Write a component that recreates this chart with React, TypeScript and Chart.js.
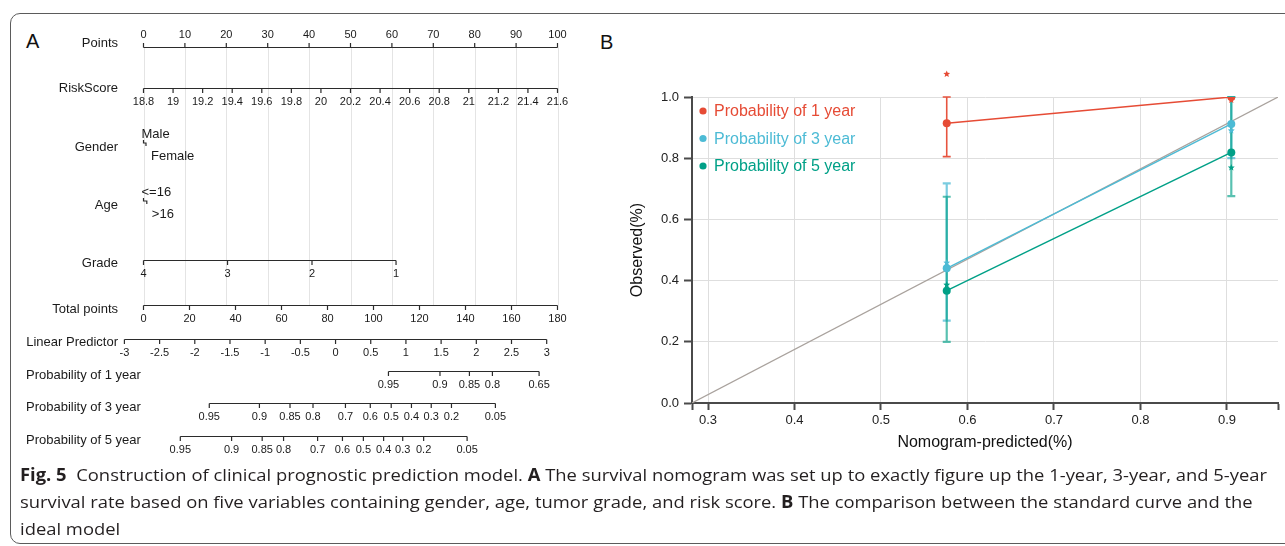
import React, { useEffect, useLayoutEffect, useRef } from 'react';
import { Chart, registerables } from 'chart.js';

Chart.register(...registerables);

const SANS = '"Liberation Sans", Arial, Helvetica, sans-serif';
Chart.defaults.font.family = SANS;
Chart.defaults.color = '#222';

// ---------- Panel A: nomogram scales (positions in points / total points) ----------
const pointsTicks = [0, 10, 20, 30, 40, 50, 60, 70, 80, 90, 100];
const riskScoreTicks = [18.8, 19, 19.2, 19.4, 19.6, 19.8, 20, 20.2, 20.4, 20.6, 20.8, 21, 21.2, 21.4, 21.6];
const riskScoreMin = 18.8;
const riskScoreMax = 21.6;
const genderLevels = ['Male', 'Female'];
const genderPoints = [0, 0.6];
const ageLevels = ['<=16', '>16'];
const agePoints = [0, 0.8];
const gradeLevels = ['4', '3', '2', '1'];
const gradePoints = [0, 20.3, 40.7, 61.0];
const totalPointsTicks = [0, 20, 40, 60, 80, 100, 120, 140, 160, 180];
const totalPointsMax = 180;
const linearPredictorTicks = [-3, -2.5, -2, -1.5, -1, -0.5, 0, 0.5, 1, 1.5, 2, 2.5, 3];
const lpTotalAtZero = 83.5;
const lpTotalPerUnit = 30.6;
const prob1Labels = ['0.95', '0.9', '0.85', '0.8', '0.65'];
const prob1Total = [106.5, 128.9, 141.7, 151.7, 172.0];
const prob3Labels = ['0.95', '0.9', '0.85', '0.8', '0.7', '0.6', '0.5', '0.4', '0.3', '0.2', '0.05'];
const prob3Total = [28.6, 50.4, 63.7, 73.7, 87.8, 98.6, 107.7, 116.5, 125.1, 133.9, 153.0];
const prob5Labels = ['0.95', '0.9', '0.85', '0.8', '0.7', '0.6', '0.5', '0.4', '0.3', '0.2', '0.05'];
const prob5Total = [16.0, 38.3, 51.6, 60.9, 75.7, 86.5, 95.6, 104.4, 112.7, 121.8, 140.7];

// ---------- Panel B: calibration ----------
const predicted = [0.576, 0.905];
const observed1 = [0.914, 1.0];
const lower1 = [0.805, 1.0];
const upper1 = [1.0, 1.0];
const km1 = [1.075, 0.99];
const observed3 = [0.44, 0.912];
const lower3 = [0.269, 0.8];
const upper3 = [0.718, 1.0];
const km3 = [0.458, 0.89];
const observed5 = [0.367, 0.819];
const lower5 = [0.2, 0.676];
const upper5 = [0.674, 1.0];
const km5 = [0.386, 0.769];
const xMin = 0.2815;
const xMax = 0.959;
const xTickValues = [0.3, 0.4, 0.5, 0.6, 0.7, 0.8, 0.9];
const yTickValues = [0, 0.2, 0.4, 0.6, 0.8, 1.0];

const RED = '#e64b35';
const BLUE = '#4dbbd5';
const GREEN = '#00a087';

const calSeries = [
  { label: 'Probability of 1 year', color: RED, bar: 'rgba(230,75,53,0.95)', barWidth: 1.6, observed: observed1, lower: lower1, upper: upper1, km: km1 },
  { label: 'Probability of 3 year', color: BLUE, bar: 'rgba(77,187,213,0.75)', barWidth: 2.2, observed: observed3, lower: lower3, upper: upper3, km: km3 },
  { label: 'Probability of 5 year', color: GREEN, bar: 'rgba(0,160,135,0.65)', barWidth: 2.2, observed: observed5, lower: lower5, upper: upper5, km: km5 },
];

// vertical layout of the nomogram rows (canvas px)
const ROW = {
  points: { axis: 47.5, label: 43.5 },
  risk: { axis: 88.5, label: 88.5 },
  gender: { axis: 143, label: 147 },
  age: { axis: 201, label: 205 },
  grade: { axis: 260.5, label: 263 },
  total: { axis: 305.5, label: 309 },
  lp: { axis: 339.5, label: 342 },
  p1: { axis: 371.5, label: 375 },
  p3: { axis: 403.5, label: 407 },
  p5: { axis: 436.5, label: 440 },
};

const TICK = 4.5;
const fmt = (v: number) => String(v);

const nomogramPlugin = {
  id: 'nomogram',
  afterDraw(chart: any) {
    const ctx: CanvasRenderingContext2D = chart.ctx;
    const xs = chart.scales.x;
    const ys = chart.scales.y;
    const px = (pts: number) => xs.getPixelForValue(pts);
    const py = (v: number) => ys.getPixelForValue(v);
    const fromTotal = (t: number) => (t * 100) / totalPointsMax;

    ctx.save();
    // light vertical guides at every points tick
    ctx.strokeStyle = '#e4e4e4';
    ctx.lineWidth = 1;
    ctx.beginPath();
    pointsTicks.forEach((p) => {
      const x = Math.round(px(p)) + 0.5;
      ctx.moveTo(x, py(ROW.points.axis));
      ctx.lineTo(x, py(ROW.total.axis));
    });
    ctx.stroke();

    ctx.strokeStyle = '#2b2b2b';
    ctx.fillStyle = '#1a1a1a';
    ctx.lineWidth = 1.2;

    const rowLabel = (text: string, y: number) => {
      ctx.font = `13px ${SANS}`;
      ctx.textBaseline = 'middle';
      ctx.textAlign = 'left';
      const w = ctx.measureText(text).width;
      let left = 118 - w;
      if (left < 26) left = 26;
      ctx.fillText(text, left, py(y));
    };

    const scaleRow = (pts: number[], labels: string[], axisY: number, up: boolean) => {
      const xsPix = pts.map(px);
      const y = py(axisY);
      ctx.beginPath();
      ctx.moveTo(Math.min(...xsPix), y);
      ctx.lineTo(Math.max(...xsPix), y);
      xsPix.forEach((x) => {
        ctx.moveTo(x, y);
        ctx.lineTo(x, up ? y - TICK : y + TICK);
      });
      ctx.stroke();
      ctx.font = `11px ${SANS}`;
      ctx.textAlign = 'center';
      ctx.textBaseline = 'middle';
      xsPix.forEach((x, i) => ctx.fillText(labels[i], x, up ? y - 12.5 : y + 13.5));
    };

    const categoryRow = (pts: number[], labels: string[], axisY: number) => {
      const [x0, x1] = pts.map(px);
      const y = py(axisY);
      ctx.beginPath();
      ctx.moveTo(x0, y - 3);
      ctx.lineTo(x0, y);
      ctx.lineTo(x1, y);
      ctx.lineTo(x1, y + 3);
      ctx.stroke();
      ctx.font = `13px ${SANS}`;
      ctx.textAlign = 'left';
      ctx.textBaseline = 'middle';
      ctx.fillText(labels[0], x0 - 2, y - 9);
      ctx.fillText(labels[1], x1 + 5, y + 13.5);
    };

    rowLabel('Points', ROW.points.label);
    scaleRow(pointsTicks, pointsTicks.map(fmt), ROW.points.axis, true);

    rowLabel('RiskScore', ROW.risk.label);
    scaleRow(
      riskScoreTicks.map((v) => ((v - riskScoreMin) / (riskScoreMax - riskScoreMin)) * 100),
      riskScoreTicks.map(fmt),
      ROW.risk.axis,
      false
    );

    rowLabel('Gender', ROW.gender.label);
    categoryRow(genderPoints, genderLevels, ROW.gender.axis);

    rowLabel('Age', ROW.age.label);
    categoryRow(agePoints, ageLevels, ROW.age.axis);

    rowLabel('Grade', ROW.grade.label);
    scaleRow(gradePoints, gradeLevels, ROW.grade.axis, false);

    rowLabel('Total points', ROW.total.label);
    scaleRow(totalPointsTicks.map(fromTotal), totalPointsTicks.map(fmt), ROW.total.axis, false);

    rowLabel('Linear Predictor', ROW.lp.label);
    scaleRow(
      linearPredictorTicks.map((v) => fromTotal(lpTotalAtZero + lpTotalPerUnit * v)),
      linearPredictorTicks.map(fmt),
      ROW.lp.axis,
      false
    );

    rowLabel('Probability of 1 year', ROW.p1.label);
    scaleRow(prob1Total.map(fromTotal), prob1Labels, ROW.p1.axis, false);
    rowLabel('Probability of 3 year', ROW.p3.label);
    scaleRow(prob3Total.map(fromTotal), prob3Labels, ROW.p3.axis, false);
    rowLabel('Probability of 5 year', ROW.p5.label);
    scaleRow(prob5Total.map(fromTotal), prob5Labels, ROW.p5.axis, false);

    ctx.restore();
  },
};

function starPath(ctx: CanvasRenderingContext2D, cx: number, cy: number, r: number) {
  ctx.beginPath();
  for (let i = 0; i < 10; i++) {
    const a = -Math.PI / 2 + (i * Math.PI) / 5;
    const rr = i % 2 === 0 ? r : r * 0.45;
    ctx.lineTo(cx + rr * Math.cos(a), cy + rr * Math.sin(a));
  }
  ctx.closePath();
}

const errorBarPlugin = {
  id: 'errorBars',
  beforeDatasetsDraw(chart: any) {
    const ctx: CanvasRenderingContext2D = chart.ctx;
    const { x, y } = chart.scales;
    ctx.save();
    calSeries.forEach((s) => {
      ctx.strokeStyle = s.bar;
      ctx.lineWidth = s.barWidth;
      predicted.forEach((p, i) => {
        const cx = x.getPixelForValue(p);
        const top = y.getPixelForValue(s.upper[i]);
        const bot = y.getPixelForValue(s.lower[i]);
        if (Math.abs(top - bot) < 0.5) return;
        ctx.beginPath();
        ctx.moveTo(cx, top);
        ctx.lineTo(cx, bot);
        ctx.moveTo(cx - 4, top);
        ctx.lineTo(cx + 4, top);
        ctx.moveTo(cx - 4, bot);
        ctx.lineTo(cx + 4, bot);
        ctx.stroke();
      });
    });
    ctx.restore();
  },
  // Kaplan-Meier estimates as small stars (drawn even when above the plot area)
  afterDatasetsDraw(chart: any) {
    const ctx: CanvasRenderingContext2D = chart.ctx;
    const { x, y } = chart.scales;
    ctx.save();
    calSeries.forEach((s) => {
      ctx.fillStyle = s.color;
      predicted.forEach((p, i) => {
        starPath(ctx, x.getPixelForValue(p), y.getPixelForValue(s.km[i]), 3.6);
        ctx.fill();
      });
    });
    ctx.restore();
  },
};

const insideLegendPlugin = {
  id: 'insideLegend',
  afterDraw(chart: any) {
    const ctx: CanvasRenderingContext2D = chart.ctx;
    const area = chart.chartArea;
    ctx.save();
    ctx.font = `16px ${SANS}`;
    ctx.textAlign = 'left';
    ctx.textBaseline = 'middle';
    calSeries.forEach((s, i) => {
      const cy = area.top + 14 + i * 27.5;
      ctx.fillStyle = s.color;
      ctx.beginPath();
      ctx.arc(area.left + 11, cy, 3.6, 0, Math.PI * 2);
      ctx.fill();
      ctx.fillText(s.label, area.left + 22, cy + 1);
    });
    ctx.restore();
  },
};

export default function App() {
  const nomoRef = useRef<HTMLCanvasElement>(null);
  const calRef = useRef<HTMLCanvasElement>(null);
  const capRef = useRef<HTMLDivElement>(null);

  useEffect(() => {
    const chart = new Chart(nomoRef.current!, {
      type: 'scatter',
      data: { datasets: [] },
      options: {
        responsive: false,
        animation: false,
        events: [],
        layout: { padding: { left: 143.5, right: 600 - 557.5, top: 0, bottom: 0 } },
        scales: {
          x: { type: 'linear', min: 0, max: 100, display: false },
          y: { type: 'linear', min: 0, max: 470, reverse: true, display: false },
        },
        plugins: { legend: { display: false }, tooltip: { enabled: false } },
      },
      plugins: [nomogramPlugin],
    } as any);
    return () => chart.destroy();
  }, []);

  useEffect(() => {
    const datasets: any[] = [
      {
        type: 'line',
        label: 'ideal',
        data: [{ x: xMin, y: 0 }, { x: xMax, y: 1 }],
        borderColor: '#a9a29d',
        borderWidth: 1.2,
        pointRadius: 0,
        order: 10,
      },
      ...calSeries.map((s, k) => ({
        type: 'line',
        label: s.label,
        data: predicted.map((p, i) => ({ x: p, y: s.observed[i] })),
        borderColor: s.color,
        backgroundColor: s.color,
        borderWidth: 1.5,
        pointRadius: 4,
        pointHoverRadius: 4,
        pointBorderWidth: 0,
        order: 3 + k,
      })),
    ];

    const chart = new Chart(calRef.current!, {
      type: 'scatter',
      data: { datasets },
      options: {
        responsive: false,
        animation: false,
        events: [],
        layout: { padding: { left: 0, top: 77, right: 7, bottom: 0 } },
        scales: {
          x: {
            type: 'linear',
            min: xMin,
            max: xMax,
            afterBuildTicks: (s: any) => {
              s.ticks = [xMin, ...xTickValues, xMax].map((v) => ({ value: v }));
            },
            afterFit: (s: any) => {
              s.height = 57;
            },
            ticks: {
              autoSkip: false,
              maxRotation: 0,
              padding: 3,
              color: '#222',
              font: { size: 13 },
              callback: (v: any) => (xTickValues.includes(v) ? Number(v).toFixed(1) : ''),
            },
            grid: {
              color: (c: any) => (c.tick && xTickValues.includes(c.tick.value) ? '#dedede' : 'rgba(0,0,0,0)'),
              lineWidth: 1,
              drawTicks: true,
              tickLength: 7,
              tickColor: '#4a4a4a',
              tickWidth: 2,
            },
            border: { display: true, color: '#4a4a4a', width: 2 },
            title: {
              display: true,
              text: 'Nomogram-predicted(%)',
              color: '#111',
              font: { size: 16 },
              padding: { top: 0, bottom: 7.4 },
            },
          },
          y: {
            type: 'linear',
            min: 0,
            max: 1,
            afterBuildTicks: (s: any) => {
              s.ticks = yTickValues.map((v) => ({ value: v }));
            },
            afterFit: (s: any) => {
              s.width = 102;
            },
            ticks: {
              padding: 5,
              color: '#222',
              font: { size: 13 },
              callback: (v: any) => Number(v).toFixed(1),
            },
            grid: {
              color: '#dedede',
              lineWidth: 1,
              drawTicks: true,
              tickLength: 8,
              tickColor: '#4a4a4a',
              tickWidth: 2,
            },
            border: { display: true, color: '#4a4a4a', width: 2 },
            title: {
              display: true,
              text: 'Observed(%)',
              color: '#111',
              font: { size: 16 },
              padding: { top: 38, bottom: 0 },
            },
          },
        },
        plugins: { legend: { display: false }, tooltip: { enabled: false } },
      },
      plugins: [errorBarPlugin, insideLegendPlugin],
    } as any);
    return () => chart.destroy();
  }, []);

  useLayoutEffect(() => {
    const fit = () => {
      const box = capRef.current;
      if (!box) return;
      box.style.transform = 'none';
      const first = box.querySelector('span') as HTMLSpanElement | null;
      if (!first) return;
      const w = first.getBoundingClientRect().width;
      if (w > 0) box.style.transform = `scaleX(${1247 / w})`;
    };
    fit();
    if ((document as any).fonts && (document as any).fonts.ready) (document as any).fonts.ready.then(fit);
  }, []);

  const captionLine: React.CSSProperties = { display: 'block', height: 27, lineHeight: '27px' };

  return (
    <div
      style={{
        position: 'fixed',
        left: 0,
        top: 0,
        width: 1285,
        height: 546,
        overflow: 'hidden',
        background: '#fff',
      }}
    >
      <div
        style={{
          position: 'absolute',
          left: 10,
          top: 13,
          width: 1400,
          height: 531,
          border: '1.5px solid #5b5b5b',
          borderRadius: 10,
          boxSizing: 'border-box',
        }}
      />
      <div style={{ position: 'absolute', left: 26, top: 29, font: `20px ${SANS}`, color: '#111', lineHeight: '24px' }}>A</div>
      <div style={{ position: 'absolute', left: 600, top: 30, font: `20px ${SANS}`, color: '#111', lineHeight: '24px' }}>B</div>
      <canvas
        ref={nomoRef}
        width={600}
        height={470}
        style={{ position: 'absolute', left: 0, top: 0, width: 600, height: 470 }}
      />
      <canvas
        ref={calRef}
        width={695}
        height={440}
        style={{ position: 'absolute', left: 590, top: 20, width: 695, height: 440 }}
      />
      <div
        ref={capRef}
        style={{
          position: 'absolute',
          left: 20,
          top: 461,
          font: '17px "Open Sans", "Noto Sans", sans-serif',
          color: '#231f20',
          whiteSpace: 'nowrap',
          transformOrigin: '0 0',
        }}
      >
        <div style={captionLine}>
          <span>
            <b>Fig. 5</b>&nbsp;&nbsp;Construction of clinical prognostic prediction model. <b>A</b> The survival nomogram was
            set up to exactly figure up the 1-year, 3-year, and 5-year
          </span>
        </div>
        <div style={captionLine}>
          <span>
            survival rate based on five variables containing gender, age, tumor grade, and risk score. <b>B</b> The
            comparison between the standard curve and the
          </span>
        </div>
        <div style={captionLine}>
          <span>ideal model</span>
        </div>
      </div>
    </div>
  );
}
